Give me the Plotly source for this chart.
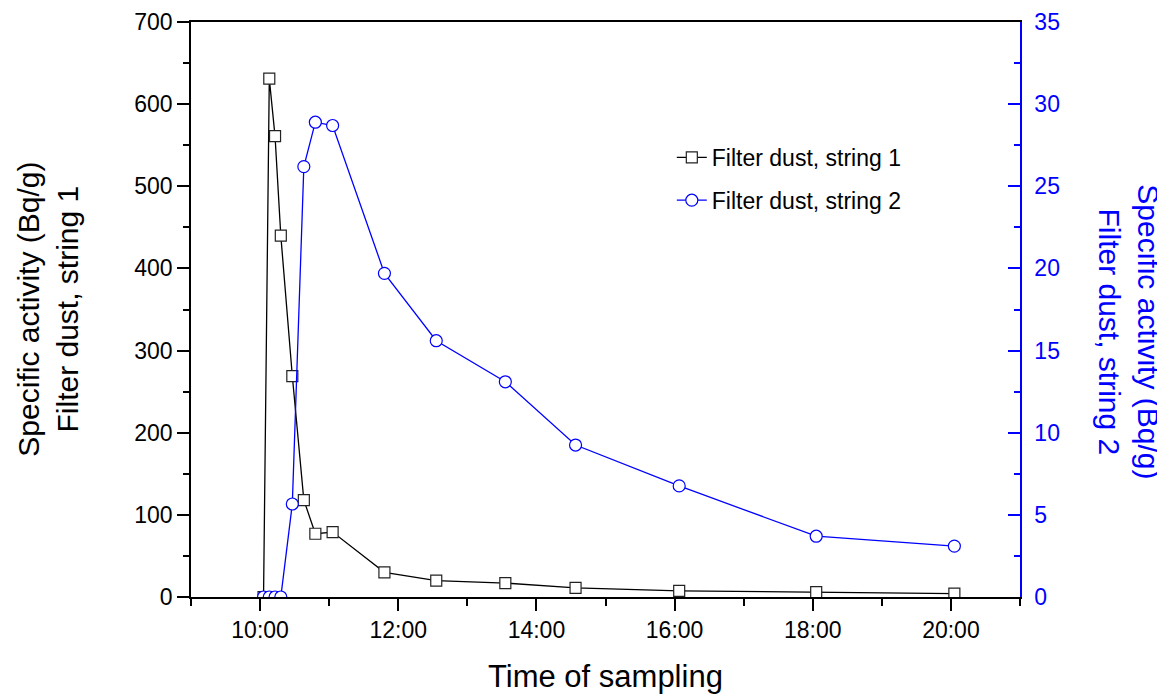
import plotly.graph_objects as go

# Sampling times (same day)
times = ["10:03", "10:08", "10:13", "10:18", "10:28", "10:38", "10:48", "11:03",
         "11:48", "12:33", "13:33", "14:34", "16:04", "18:03", "20:03"]
string1 = [0, 631, 561, 440, 269, 118, 77, 79, 30, 20, 17, 11, 7.5, 6, 4]
string2 = [0, 0, 0, 0, 5.66, 26.2, 28.9, 28.7, 19.7, 15.6, 13.1, 9.25, 6.76, 3.7, 3.1]

x_tick_labels = ["10:00", "12:00", "14:00", "16:00", "18:00", "20:00"]

day = "2000-01-01 "
xs = [day + t for t in times]
xtickvals = [day + t for t in x_tick_labels]

FONT = "Liberation Sans, Arial, sans-serif"
BLUE = "#0000ff"

fig = go.Figure()
fig.add_trace(go.Scatter(
    x=xs, y=string1, name="Filter dust, string 1", mode="lines+markers",
    line=dict(color="black", width=1.3),
    marker=dict(symbol="square", size=11, color="white", line=dict(color="#222", width=1.2)),
    legendgroup="a", yaxis="y"))
fig.add_trace(go.Scatter(
    x=xs, y=string2, name="Filter dust, string 2", mode="lines+markers",
    line=dict(color=BLUE, width=1.3),
    marker=dict(symbol="circle", size=12, color="white", line=dict(color=BLUE, width=1.2)),
    legendgroup="b", yaxis="y2"))

fig.update_layout(
    width=1157, height=689,
    margin=dict(l=183, r=145, t=14, b=100, autoexpand=False),
    paper_bgcolor="white", plot_bgcolor="white",
    font=dict(family=FONT, size=23, color="black"),
    showlegend=True,
    legend=dict(x=0.58, y=0.802, xanchor="left", yanchor="top",
                bgcolor="rgba(0,0,0,0)", font=dict(size=23),
                tracegroupgap=10),
    xaxis=dict(
        type="date", automargin=False,
        range=[day + "09:00", day + "21:00"],
        tickvals=xtickvals, ticktext=x_tick_labels,
        ticks="outside", ticklen=12, tickwidth=1.5, tickcolor="black",
        minor=dict(dtick=3600000, tick0=day + "09:00", ticks="outside", ticklen=7,
                   tickwidth=1.5, tickcolor="black", showgrid=False),
        showline=True, linecolor="black", linewidth=1.5, mirror=True,
        showgrid=False, zeroline=False,
        tickfont=dict(size=23),
    ),
    yaxis=dict(
        automargin=False,
        range=[0, 700], dtick=100, tick0=0,
        ticks="outside", ticklen=12, tickwidth=1.5, tickcolor="black",
        minor=dict(dtick=50, ticks="outside", ticklen=6, tickwidth=1.5,
                   tickcolor="black", showgrid=False),
        showline=True, linecolor="black", linewidth=1.5,
        showgrid=False, zeroline=False,
        tickfont=dict(size=23),
    ),
    yaxis2=dict(
        automargin=False,
        overlaying="y", side="right",
        range=[0, 35], dtick=5, tick0=0,
        ticks="inside", ticklen=12, tickwidth=1.5, tickcolor=BLUE,
        minor=dict(dtick=2.5, ticks="inside", ticklen=6, tickwidth=1.5,
                   tickcolor=BLUE, showgrid=False),
        showline=True, linecolor=BLUE, linewidth=1.5,
        showgrid=False, zeroline=False,
        tickfont=dict(size=23, color=BLUE),
        ticklabelstandoff=8,
    ),
    annotations=[
        dict(text="Specific activity (Bq/g)<br>Filter dust, string 1",
             xref="paper", yref="paper", x=-0.1735, y=0.5,
             xanchor="center", yanchor="middle", textangle=-90,
             showarrow=False, font=dict(size=30, color="black", family=FONT)),
        dict(text="Specific activity (Bq/g)<br>Filter dust, string 2",
             xref="paper", yref="paper", x=1.131, y=0.461,
             xanchor="center", yanchor="middle", textangle=90,
             showarrow=False, font=dict(size=30, color=BLUE, family=FONT)),
        dict(text="Time of sampling",
             xref="paper", yref="paper", x=0.5, y=-0.139,
             xanchor="center", yanchor="middle",
             showarrow=False, font=dict(size=31, color="black", family=FONT)),
    ],
)

fig.write_html("out.html")
